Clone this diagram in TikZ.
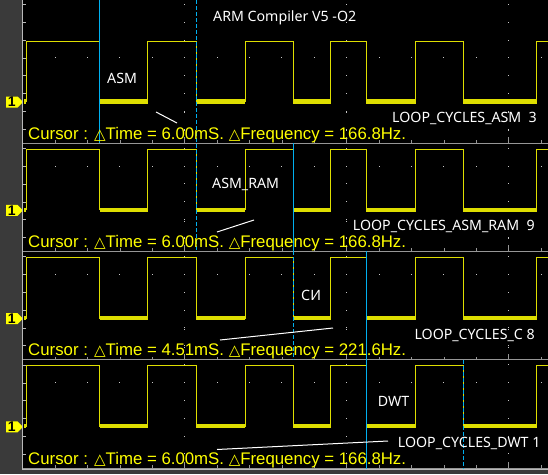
\documentclass[tikz,border=0pt]{standalone}
\usepackage{fontspec}
\setmainfont{Liberation Sans}
\newfontfamily\notefont{Noto Sans}
\newfontfamily\trifont{DejaVu Sans}
\usetikzlibrary{shapes.symbols}

\definecolor{yel}{RGB}{222,222,0}
\definecolor{readyel}{RGB}{255,255,0}
\definecolor{curblue}{RGB}{0,176,240}
\definecolor{rulegray}{RGB}{150,150,150}
\definecolor{edgegray}{RGB}{185,185,185}
\definecolor{stripgray}{RGB}{58,58,58}
\definecolor{dotgray}{RGB}{200,200,200}

\newcommand{\dtri}{{\trifont\fontsize{15}{15}\selectfont △}}

\tikzset{
  trace/.style={draw=yel, line width=1pt},
  lowbar/.style={draw=yel, line width=4.2pt},
  cursorline/.style={draw=curblue, line width=1pt},
  cursordash/.style={cursorline, dash pattern=on 4pt off 2pt},
  readout/.style={text=readyel, font=\fontsize{16.8}{18}\selectfont,
    anchor=base west, inner sep=0pt},
  caption/.style={text=white, font=\notefont\fontsize{14.2}{16}\selectfont,
    anchor=base west, inner sep=0pt},
  pointer/.style={draw=white, line width=1pt},
  chmark/.style={shape=signal, signal to=east, fill=readyel, text=black,
    font=\bfseries\fontsize{14}{14}\selectfont, inner sep=0pt,
    minimum width=17pt, minimum height=11pt}
}

\begin{document}
\begin{tikzpicture}[x=1pt, y=-1pt]
    \useasboundingbox (0,0) rectangle (548,474);
    % screen
    \fill[black] (0,0) rectangle (548,474);
    \fill[stripgray] (0,0) rectangle (22,474);
    \fill[stripgray] (22,470) rectangle (548,474);

    % grid, frame and traces of the four channels
    \foreach \p in {0,...,3}{
    \begin{scope}[yshift={-108.3pt*\p}]
        \foreach \k in {1,...,16}
            \fill[dotgray] ({22.6+32.4*\k-0.5},57.2) rectangle ++(1,1);
        \foreach \k in {5,10,15}
            \foreach \j in {-2,...,5}
                \fill[dotgray] ({22.6+32.4*\k-0.5},{39.5+17.8*\j}) rectangle ++(1,1);
        \foreach \j in {0,...,5}
            \draw[edgegray] (23,{40+17.8*\j}) -- (26,{40+17.8*\j});
        \draw[rulegray] (23,143) -- (548,143);
        \foreach \k in {1,...,16}
            \draw[rulegray] ({22.6+32.4*\k},143) -- ({22.6+32.4*\k},140);
        \foreach \k in {5,10,15}
            \draw[rulegray] ({22.6+32.4*\k},143) -- ({22.6+32.4*\k},137);

        \draw[trace] (24,101.5) -- (26,101.5) -- (26,41) -- (99.5,41)
            -- (99.5,101.5) -- (147.7,101.5) -- (147.7,41) -- (196.3,41)
            -- (196.3,101.5) -- (245.3,101.5) -- (245.3,41) -- (293.3,41)
            -- (293.3,101.5) -- (330.7,101.5) -- (330.7,41) -- (366.3,41)
            -- (366.3,101.5) -- (415.7,101.5) -- (415.7,41) -- (463.3,41)
            -- (463.3,101.5) -- (536.7,101.5) -- (536.7,41) -- (548,41);
        \foreach \a/\b in {24/26,99.5/147.7,196.3/245.3,293.3/330.7,
                           366.3/415.7,463.3/536.7}
            \draw[lowbar] (\a,101.4) -- (\b,101.4);

        \node[chmark] (mark\p) at (11.8,102) {1};
    \end{scope}
    }
    \foreach \j in {-2,-1}
        \draw[edgegray] (23,{40+17.8*\j}) -- (26,{40+17.8*\j});
    \draw[edgegray, line width=1.3pt] (22.7,0) -- (22.7,470);
    \draw[edgegray, line width=1.3pt] (22,469.3) -- (548,469.3);

    % cursors
    \draw[cursorline] (99.5,0) -- (99.5,143);
    \draw[cursordash] (196.3,0) -- (196.3,251.3);
    \draw[cursorline] (293.6,143) -- (293.6,251.3);
    \draw[cursordash] (293.3,251.3) -- (293.3,359.6);
    \draw[cursorline] (366.3,251.3) -- (366.3,468.6);
    \draw[cursordash] (463.3,359.6) -- (463.3,468.6);

    % readouts
    \node[readout] (read1) at (28,139.2)
        {Cursor : \dtri Time = 6.00mS. \dtri Frequency = 166.8Hz.};
    \node[readout] (read2) at (28,247.5)
        {Cursor : \dtri Time = 6.00mS. \dtri Frequency = 166.8Hz.};
    \node[readout] (read3) at (28,355.8)
        {Cursor : \dtri Time = 4.51mS. \dtri Frequency = 221.6Hz.};
    \node[readout] (read4) at (28,464.1)
        {Cursor : \dtri Time = 6.00mS. \dtri Frequency = 166.8Hz.};

    % notes
    \node[caption] (title) at (213,21.7) {ARM Compiler V5 -O2};
    \node[caption] (asm) at (107,83.3) {ASM};
    \node[caption] (loopasm) at (392,122) {LOOP\_CYCLES\_ASM\ \ 3};
    \node[caption] (asmram) at (212,188.3) {ASM\_RAM};
    \node[caption] (loopram) at (352.7,230.7) {LOOP\_CYCLES\_ASM\_RAM\ \ 9};
    \node[caption] (si) at (301,300) {СИ};
    \node[caption] (loopc) at (414.3,339) {LOOP\_CYCLES\_C 8};
    \node[caption] (dwt) at (377.7,406) {DWT};
    \node[caption] (loopdwt) at (397.7,447.3) {LOOP\_CYCLES\_DWT 1};

    % pointer strokes
    \coordinate (pa1) at (156,112);
    \coordinate (pa2) at (177,123);
    \coordinate (pb1) at (217,232);
    \coordinate (pb2) at (254,220);
    \coordinate (pc1) at (220,340);
    \coordinate (pc2) at (333,328);
    \coordinate (pd1) at (217,449.5);
    \coordinate (pd2) at (388,441);
    \draw[pointer] (pa1) -- (pa2);
    \draw[pointer] (pb1) -- (pb2);
    \draw[pointer] (pc1) -- (pc2);
    \draw[pointer] (pd1) -- (pd2);
\end{tikzpicture}
\end{document}
